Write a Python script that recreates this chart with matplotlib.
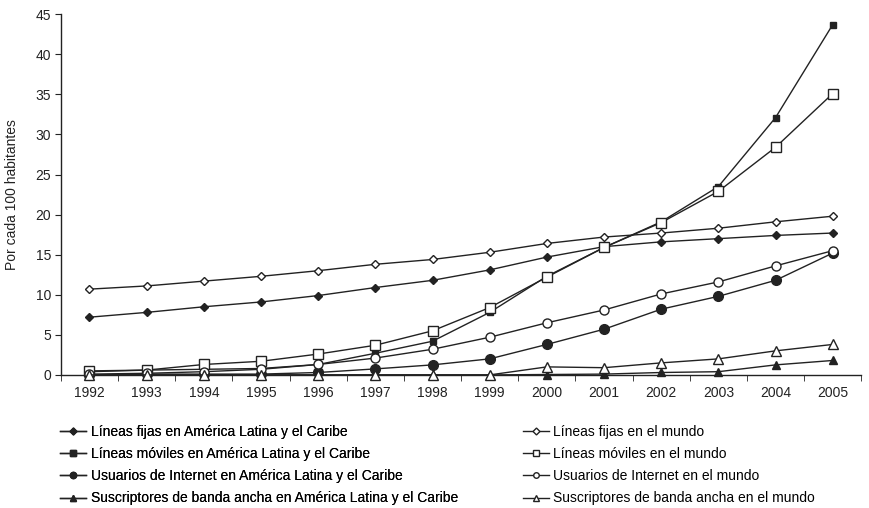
import matplotlib.pyplot as plt
import numpy as np

plt.rcParams['font.family'] = ['Liberation Sans', 'DejaVu Sans']

years = ['1992', '1993', '1994', '1995', '1996', '1997', '1998',
         '1999', '2000', '2001', '2002', '2003', '2004', '2005']

fijas_lac = [7.2, 7.8, 8.5, 9.1, 9.9, 10.9, 11.8, 13.1, 14.7, 16.0, 16.6, 17.0, 17.4, 17.7]
fijas_mundo = [10.7, 11.1, 11.7, 12.3, 13.0, 13.8, 14.4, 15.3, 16.4, 17.2, 17.7, 18.3, 19.1, 19.8]
moviles_lac = [0.4, 0.6, 0.7, 0.8, 1.3, 2.7, 4.2, 7.8, 12.3, 15.9, 19.1, 23.5, 32.1, 43.7]
moviles_mundo = [0.5, 0.6, 1.3, 1.7, 2.6, 3.7, 5.5, 8.4, 12.2, 15.9, 19.0, 22.9, 28.4, 35.1]
internet_lac = [0.0, 0.1, 0.1, 0.1, 0.3, 0.75, 1.25, 2.0, 3.8, 5.7, 8.2, 9.8, 11.8, 15.2]
internet_mundo = [0.1, 0.2, 0.4, 0.7, 1.3, 2.1, 3.2, 4.7, 6.5, 8.1, 10.1, 11.6, 13.6, 15.5]
banda_lac = [0.0, 0.0, 0.0, 0.0, 0.0, 0.0, 0.0, 0.0, 0.05, 0.1, 0.3, 0.4, 1.25, 1.8]
banda_mundo = [0.0, 0.0, 0.0, 0.0, 0.0, 0.0, 0.0, 0.0, 1.0, 0.9, 1.5, 2.0, 3.0, 3.8]

x = np.arange(len(years))
ink = '#222222'

fig = plt.figure(figsize=(8.7, 5.08), dpi=100)
ax = fig.add_axes([0.070, 0.262, 0.920, 0.710])

# (values, marker, face, size in plot, size in legend, label)
series = [
    (fijas_lac, 'D', ink, 4.0, 3.5, 'Líneas fijas en América Latina y el Caribe'),
    (moviles_lac, 's', ink, 5.0, 5.0, 'Líneas móviles en América Latina y el Caribe'),
    (internet_lac, 'o', ink, 7.0, 4.5, 'Usuarios de Internet en América Latina y el Caribe'),
    (banda_lac, '^', ink, 6.0, 4.5, 'Suscriptores de banda ancha en América Latina y el Caribe'),
    (fijas_mundo, 'D', 'white', 4.0, 3.5, 'Líneas fijas en el mundo'),
    (moviles_mundo, 's', 'white', 7.0, 5.0, 'Líneas móviles en el mundo'),
    (internet_mundo, 'o', 'white', 6.5, 4.0, 'Usuarios de Internet en el mundo'),
    (banda_mundo, '^', 'white', 6.5, 4.5, 'Suscriptores de banda ancha en el mundo'),
]

handles = []
leg_sizes = []
for vals, mk, fc, ms, lms, lab in series:
    h, = ax.plot(x, vals, color=ink, lw=1.0, marker=mk, markersize=ms,
                 markerfacecolor=fc, markeredgecolor=ink, markeredgewidth=1.0,
                 label=lab, clip_on=False, zorder=3)
    handles.append(h)
    leg_sizes.append(lms)

ax.set_xlim(-0.5, len(years) - 0.5)
ax.set_ylim(0, 45)
ax.set_yticks(np.arange(0, 46, 5))
ax.set_xticks(x)
ax.set_xticklabels(years)
ax.set_xticks(np.arange(-0.5, len(years), 1), minor=True)
ax.tick_params(axis='x', which='major', length=0, pad=8, labelsize=10, colors=ink)
ax.tick_params(axis='x', which='minor', length=4, direction='out', color=ink)
ax.tick_params(axis='y', length=4, direction='out', labelsize=10, colors=ink, pad=3)
ax.set_ylabel('Por cada 100 habitantes', fontsize=10, color=ink, labelpad=12)

for s in ['top', 'right']:
    ax.spines[s].set_visible(False)
for s in ['left', 'bottom']:
    ax.spines[s].set_color(ink)
    ax.spines[s].set_linewidth(1.0)

leg_kw = dict(frameon=False, fontsize=10, handlelength=1.9, handletextpad=0.3,
              labelspacing=0.58, borderaxespad=0, borderpad=0)
leg1 = fig.legend(handles=handles[:4], loc='upper left',
                  bbox_to_anchor=(0.069, 0.163), **leg_kw)
for lh, s in zip(leg1.legend_handles, leg_sizes[:4]):
    lh.set_markersize(s)
fig.add_artist(leg1)
leg2 = fig.legend(handles=handles[4:], loc='upper left',
                  bbox_to_anchor=(0.601, 0.163), **leg_kw)
for lh, s in zip(leg2.legend_handles, leg_sizes[4:]):
    lh.set_markersize(s)

fig.savefig('out.png', dpi=100)
